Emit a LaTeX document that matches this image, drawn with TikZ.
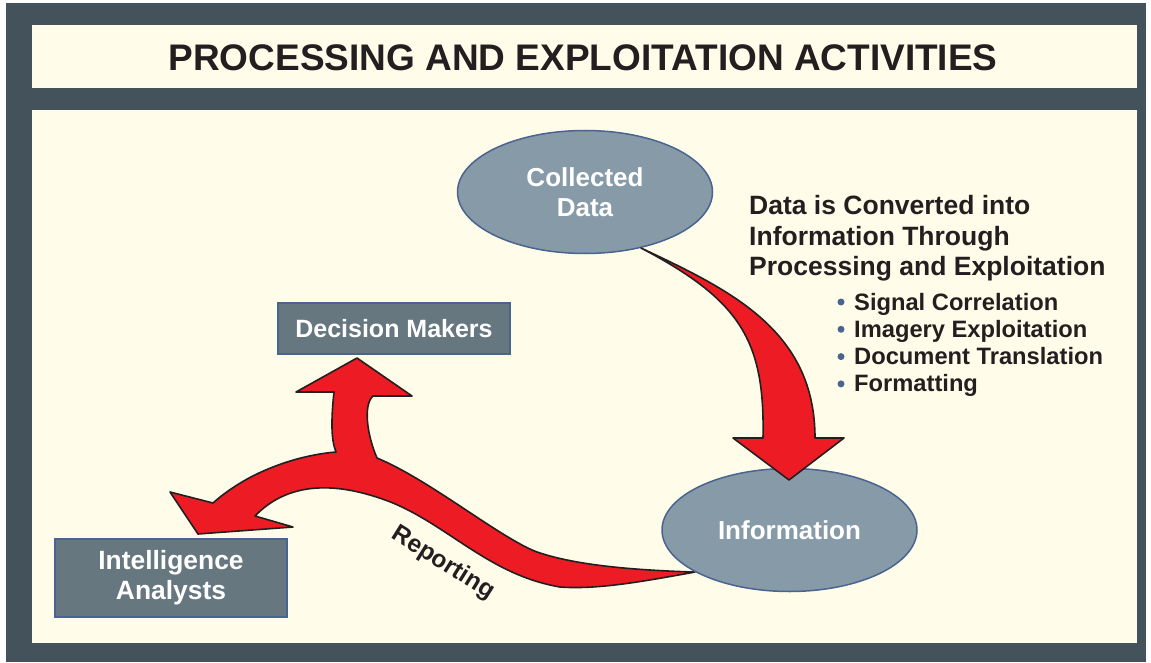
\documentclass[tikz,border=0pt]{standalone}
\usepackage{fontspec}
\setmainfont{Liberation Sans}
\usetikzlibrary{shapes.geometric}
\definecolor{framegray}{HTML}{43525B}
\definecolor{cream}{HTML}{FFFDE9}
\definecolor{ellfill}{HTML}{869AA8}
\definecolor{boxfill}{HTML}{667780}
\definecolor{edgeblue}{HTML}{4A6491}
\definecolor{arrowred}{HTML}{ED1C24}
\definecolor{textdark}{HTML}{231F20}
\pgfdeclarelayer{bg}
\pgfdeclarelayer{arrows}
\pgfsetlayers{bg,arrows,main}

\begin{document}
\begin{tikzpicture}[x=1pt,y=-1pt,
  dataellipse/.style={ellipse, draw=edgeblue, line width=1.5pt, fill=ellfill,
    minimum width=255pt, minimum height=123pt, text=white, align=center,
    font=\fontsize{26}{30.5}\selectfont\bfseries},
  rolebox/.style={rectangle, draw=edgeblue, line width=1.8pt, fill=boxfill,
    minimum width=232pt, text=white, align=center, inner sep=0pt},
  redarrow/.style={fill=arrowred, draw=textdark, line width=1.6pt, line join=round},
  bullettext/.style={anchor=base west, inner sep=0pt, text=textdark,
    font=\fontsize{23.7}{27}\selectfont\bfseries},
  bulletdot/.style={circle, fill=edgeblue, inner sep=0pt, minimum size=7pt}]

\useasboundingbox (0,0) rectangle (1151,663);

% frame and panels
\begin{pgfonlayer}{bg}
  \fill[white] (0,0) rectangle (1151,663);
  \fill[framegray] (6,3) rectangle (1146,662);
  \fill[cream] (32,25) rectangle (1137,88);
  \fill[cream] (32,110) rectangle (1137,643);
\end{pgfonlayer}

\node[text=textdark, font=\fontsize{37}{42}\selectfont\bfseries] (title) at (583,58)
  {PROCESSING AND EXPLOITATION ACTIVITIES};

% nodes
\node[dataellipse] (cd) at (585,192) {Collected\\Data};
\node[dataellipse] (info) at (789.5,530) {Information};
\node[rolebox, minimum height=51pt, font=\fontsize{25}{30}\selectfont\bfseries] (dm) at (394,328.5) {Decision Makers};
\node[rolebox, minimum height=78pt, font=\fontsize{26.4}{30}\selectfont\bfseries] (ia) at (171,578) {Intelligence\\Analysts};

% processing arrow
\draw[redarrow] (cd.-45) .. controls (730,290) and (815,330) .. (815,438)
  -- (844,438) -- (789,480) -- (733,438) -- (763,438)
  .. controls (765,340) and (740,300) .. (cd.-45) -- cycle;

% reporting arrow
\begin{pgfonlayer}{arrows}
\draw[redarrow] (info.204) .. controls (630,570) and (575,565) .. (537,552)
  .. controls (500,538) and (430,480) .. (377,458)
  .. controls (367,435) and (363,405) .. (373,396)
  -- (412,396) -- (357,358) -- (296,392) -- (334,392)
  .. controls (331,420) and (331,440) .. (336,452)
  .. controls (300,455) and (250,470) .. (213,503)
  -- (170,492) -- (198,534) -- (293,527) -- (255,516)
  .. controls (285,485) and (330,478) .. (393,503)
  .. controls (450,527) and (490,575) .. (560,587)
  .. controls (600,590) and (650,580) .. (info.204) -- cycle;
\end{pgfonlayer}

\node[text=textdark, rotate=-32, font=\fontsize{24.5}{28}\selectfont\bfseries] (rep) at (443,563) {Reporting};

% text on the right
\node[anchor=north west, inner sep=0pt, align=left, text=textdark,
  font=\fontsize{26.5}{30.5}\selectfont\bfseries] (conv) at (749,195.5)
  {Data is Converted into\\Information Through\\Processing and Exploitation};

\node[bullettext] (b1) at (854,310) {Signal Correlation};
\node[bullettext] (b2) at (854,337.3) {Imagery Exploitation};
\node[bullettext] (b3) at (854,364.6) {Document Translation};
\node[bullettext] (b4) at (854,391.9) {Formatting};
\foreach \b in {b1,b2,b3,b4}
  \node[bulletdot] at ([xshift=-13pt,yshift=8pt]\b.base west) {};
\end{tikzpicture}
\end{document}
